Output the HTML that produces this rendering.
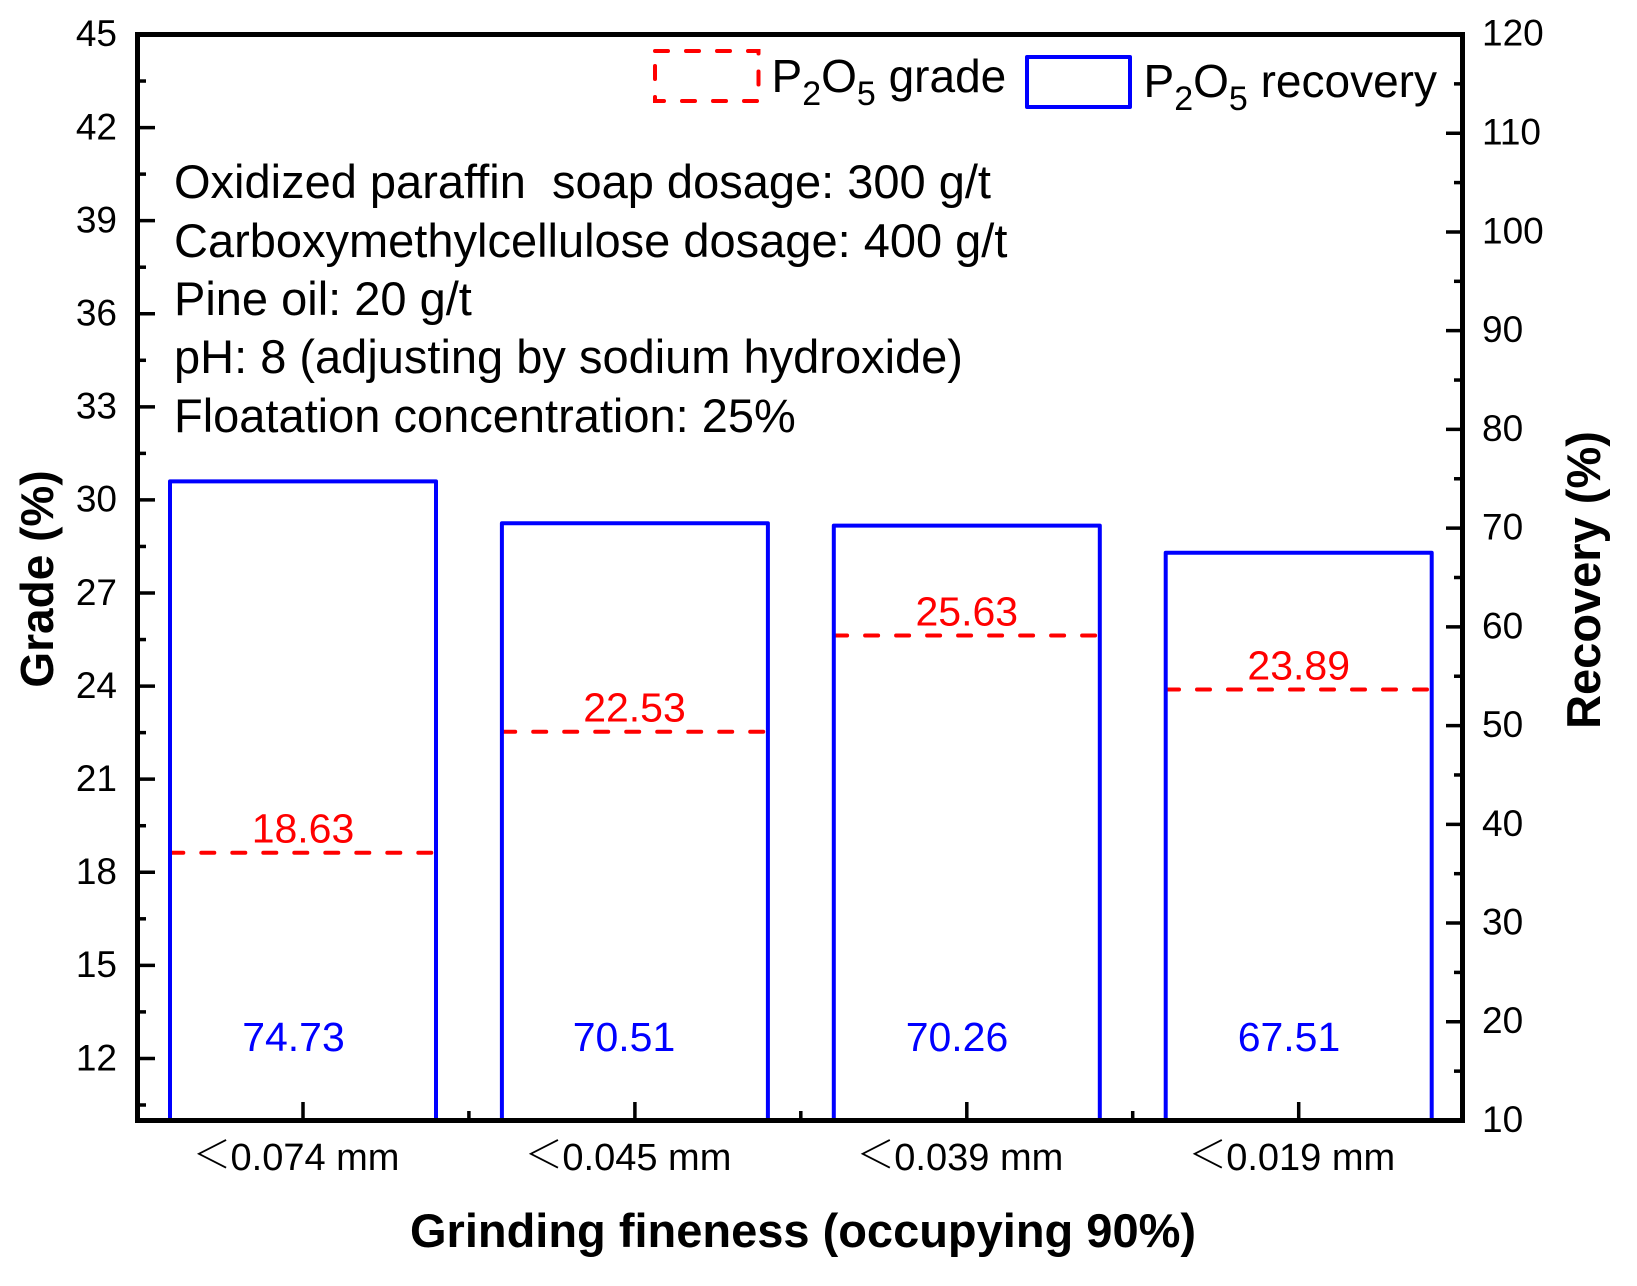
<!DOCTYPE html>
<html><head><meta charset="utf-8"><style>
html,body{margin:0;padding:0;background:#fff;}
svg{display:block;}
text{font-family:"Liberation Sans",Arial,sans-serif;}
</style></head><body>
<svg width="1637" height="1286" viewBox="0 0 1637 1286" xmlns="http://www.w3.org/2000/svg">
<rect width="1637" height="1286" fill="#fff"/>

<!-- grade dashed lines -->
<g stroke="#ff0000" stroke-width="4" stroke-dasharray="13 18" stroke-linecap="round" fill="none">
<line x1="170.3" y1="852.7" x2="436" y2="852.7"/>
<line x1="502.2" y1="731.7" x2="767.9" y2="731.7"/>
<line x1="834.1" y1="635.5" x2="1099.8" y2="635.5"/>
<line x1="1166" y1="689.5" x2="1431.7" y2="689.5"/>
</g>

<!-- recovery bars -->
<g stroke="#0000ff" stroke-width="4" fill="none" stroke-linejoin="round">
<path d="M170,1121 V481.4 H436 V1121"/>
<path d="M501.9,1121 V523.2 H767.9 V1121"/>
<path d="M833.8,1121 V525.6 H1099.8 V1121"/>
<path d="M1165.7,1121 V552.7 H1431.7 V1121"/>
</g>

<!-- red labels -->
<g fill="#ff0000" font-size="41" text-anchor="middle">
<text x="303" y="842.7">18.63</text>
<text x="634.5" y="721.7">22.53</text>
<text x="966.8" y="625.5">25.63</text>
<text x="1298.7" y="679.5">23.89</text>
</g>

<!-- blue labels -->
<g fill="#0000ff" font-size="41" text-anchor="middle">
<text x="293.5" y="1051">74.73</text>
<text x="624" y="1051">70.51</text>
<text x="957" y="1051">70.26</text>
<text x="1289" y="1051">67.51</text>
</g>

<!-- axes frame -->
<rect x="137.5" y="34.5" width="1325" height="1086" fill="none" stroke="#000" stroke-width="5"/>

<!-- left ticks -->
<g stroke="#000" stroke-width="3.5">
<line x1="137.5" x2="155" y1="1058.44" y2="1058.44"/>
<line x1="137.5" x2="155" y1="965.36" y2="965.36"/>
<line x1="137.5" x2="155" y1="872.27" y2="872.27"/>
<line x1="137.5" x2="155" y1="779.18" y2="779.18"/>
<line x1="137.5" x2="155" y1="686.09" y2="686.09"/>
<line x1="137.5" x2="155" y1="593.01" y2="593.01"/>
<line x1="137.5" x2="155" y1="499.92" y2="499.92"/>
<line x1="137.5" x2="155" y1="406.83" y2="406.83"/>
<line x1="137.5" x2="155" y1="313.75" y2="313.75"/>
<line x1="137.5" x2="155" y1="220.66" y2="220.66"/>
<line x1="137.5" x2="155" y1="127.57" y2="127.57"/>
<line x1="137.5" x2="146" y1="1104.99" y2="1104.99"/>
<line x1="137.5" x2="146" y1="1011.90" y2="1011.90"/>
<line x1="137.5" x2="146" y1="918.81" y2="918.81"/>
<line x1="137.5" x2="146" y1="825.73" y2="825.73"/>
<line x1="137.5" x2="146" y1="732.64" y2="732.64"/>
<line x1="137.5" x2="146" y1="639.55" y2="639.55"/>
<line x1="137.5" x2="146" y1="546.46" y2="546.46"/>
<line x1="137.5" x2="146" y1="453.38" y2="453.38"/>
<line x1="137.5" x2="146" y1="360.29" y2="360.29"/>
<line x1="137.5" x2="146" y1="267.20" y2="267.20"/>
<line x1="137.5" x2="146" y1="174.12" y2="174.12"/>
<line x1="137.5" x2="146" y1="81.03" y2="81.03"/>
</g>

<!-- right ticks -->
<g stroke="#000" stroke-width="3.5">
<line x1="1446" x2="1462.5" y1="1021.77" y2="1021.77"/>
<line x1="1446" x2="1462.5" y1="923.05" y2="923.05"/>
<line x1="1446" x2="1462.5" y1="824.32" y2="824.32"/>
<line x1="1446" x2="1462.5" y1="725.59" y2="725.59"/>
<line x1="1446" x2="1462.5" y1="626.87" y2="626.87"/>
<line x1="1446" x2="1462.5" y1="528.14" y2="528.14"/>
<line x1="1446" x2="1462.5" y1="429.41" y2="429.41"/>
<line x1="1446" x2="1462.5" y1="330.68" y2="330.68"/>
<line x1="1446" x2="1462.5" y1="231.96" y2="231.96"/>
<line x1="1446" x2="1462.5" y1="133.23" y2="133.23"/>
<line x1="1454" x2="1462.5" y1="1071.14" y2="1071.14"/>
<line x1="1454" x2="1462.5" y1="972.41" y2="972.41"/>
<line x1="1454" x2="1462.5" y1="873.68" y2="873.68"/>
<line x1="1454" x2="1462.5" y1="774.96" y2="774.96"/>
<line x1="1454" x2="1462.5" y1="676.23" y2="676.23"/>
<line x1="1454" x2="1462.5" y1="577.50" y2="577.50"/>
<line x1="1454" x2="1462.5" y1="478.77" y2="478.77"/>
<line x1="1454" x2="1462.5" y1="380.05" y2="380.05"/>
<line x1="1454" x2="1462.5" y1="281.32" y2="281.32"/>
<line x1="1454" x2="1462.5" y1="182.59" y2="182.59"/>
<line x1="1454" x2="1462.5" y1="83.86" y2="83.86"/>
</g>

<!-- bottom ticks -->
<g stroke="#000" stroke-width="3.5">
<line x1="303" x2="303" y1="1120.5" y2="1102"/>
<line x1="634.9" x2="634.9" y1="1120.5" y2="1102"/>
<line x1="966.8" x2="966.8" y1="1120.5" y2="1102"/>
<line x1="1298.7" x2="1298.7" y1="1120.5" y2="1102"/>
<line x1="468.9" x2="468.9" y1="1120.5" y2="1111"/>
<line x1="800.8" x2="800.8" y1="1120.5" y2="1111"/>
<line x1="1132.7" x2="1132.7" y1="1120.5" y2="1111"/>
</g>

<!-- left tick labels -->
<g font-size="37" text-anchor="end" fill="#000">
<text x="117" y="46">45</text>
<text x="117" y="139.5">42</text>
<text x="117" y="232.5">39</text>
<text x="117" y="325.5">36</text>
<text x="117" y="418.5">33</text>
<text x="117" y="511.5">30</text>
<text x="117" y="605">27</text>
<text x="117" y="698">24</text>
<text x="117" y="791">21</text>
<text x="117" y="884">18</text>
<text x="117" y="977">15</text>
<text x="117" y="1070.5">12</text>
</g>

<!-- right tick labels -->
<g font-size="37" text-anchor="start" fill="#000">
<text x="1482" y="45.5">120</text>
<text x="1482" y="144.5">110</text>
<text x="1482" y="243.5">100</text>
<text x="1482" y="342">90</text>
<text x="1482" y="441">80</text>
<text x="1482" y="539.5">70</text>
<text x="1482" y="638.5">60</text>
<text x="1482" y="737">50</text>
<text x="1482" y="836">40</text>
<text x="1482" y="934.5">30</text>
<text x="1482" y="1033">20</text>
<text x="1482" y="1132">10</text>
</g>

<!-- category labels -->
<g font-size="38" fill="#000">
<text x="212" y="1168" text-anchor="middle" style="font-family:'Noto Sans CJK SC','Liberation Sans',sans-serif;font-weight:300">＜</text>
<text x="230.5" y="1170">0.074 mm</text>
<text x="543.9" y="1168" text-anchor="middle" style="font-family:'Noto Sans CJK SC','Liberation Sans',sans-serif;font-weight:300">＜</text>
<text x="562.4" y="1170">0.045 mm</text>
<text x="875.8" y="1168" text-anchor="middle" style="font-family:'Noto Sans CJK SC','Liberation Sans',sans-serif;font-weight:300">＜</text>
<text x="894.3" y="1170">0.039 mm</text>
<text x="1207.7" y="1168" text-anchor="middle" style="font-family:'Noto Sans CJK SC','Liberation Sans',sans-serif;font-weight:300">＜</text>
<text x="1226.2" y="1170">0.019 mm</text>
</g>

<!-- axis titles -->
<text x="803" y="1247" font-size="47" font-weight="bold" text-anchor="middle" fill="#000">Grinding fineness (occupying 90%)</text>
<text x="53" y="579" font-size="46" font-weight="bold" text-anchor="middle" fill="#000" transform="rotate(-90 53 579)">Grade (%)</text>
<text x="1600" y="580" font-size="47" font-weight="bold" text-anchor="middle" fill="#000" transform="rotate(-90 1600 580)">Recovery (%)</text>

<!-- annotation text block -->
<g font-size="47" fill="#000">
<text x="174" y="198" xml:space="preserve">Oxidized paraffin  soap dosage: 300 g/t</text>
<text x="174" y="257">Carboxymethylcellulose dosage: 400 g/t</text>
<text x="174" y="315">Pine oil: 20 g/t</text>
<text x="174" y="373">pH: 8 (adjusting by sodium hydroxide)</text>
<text x="174" y="432">Floatation concentration: 25%</text>
</g>

<!-- legend -->
<rect x="655" y="51" width="103.5" height="50" fill="none" stroke="#ff0000" stroke-width="4" stroke-dasharray="13 18" stroke-linecap="round"/>
<text x="771.5" y="92" font-size="46" fill="#000">P<tspan font-size="34" dy="13">2</tspan><tspan dy="-13">O</tspan><tspan font-size="34" dy="13">5</tspan><tspan dy="-13"> grade</tspan></text>
<rect x="1027" y="57" width="103" height="50" fill="none" stroke="#0000ff" stroke-width="4" stroke-linejoin="round"/>
<text x="1143.5" y="97" font-size="46" fill="#000">P<tspan font-size="34" dy="13">2</tspan><tspan dy="-13">O</tspan><tspan font-size="34" dy="13">5</tspan><tspan dy="-13"> recovery</tspan></text>
</svg>
</body></html>
